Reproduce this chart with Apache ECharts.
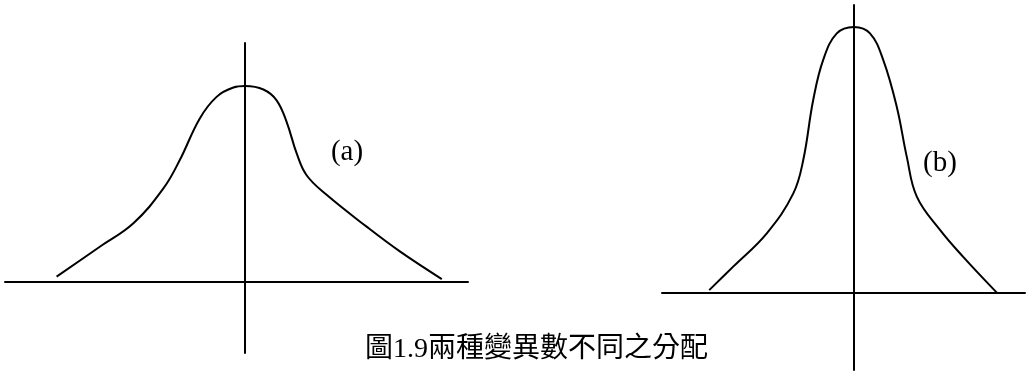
<!DOCTYPE html>
<html>
<head>
<meta charset="utf-8">
<script src="https://cdn.jsdelivr.net/npm/echarts@6/dist/echarts.min.js"></script>
<style>
  html, body { margin: 0; padding: 0; background: #fff; }
  #chart { width: 1026px; height: 374px; }
</style>
</head>
<body>
<div id="chart"></div>
<script>
// curve (a): wider spread
const xsA = [-4.71, -3.63, -2.79, -2.04, -1.63, -1.13, -0.71, -0.29, 0, 0.46, 0.79, 1.04, 1.29, 1.54, 2.04, 3.04, 3.88, 4.92];
const ysA = [0.011, 0.072, 0.120, 0.191, 0.249, 0.334, 0.378, 0.397, 0.400, 0.393, 0.371, 0.327, 0.263, 0.218, 0.178, 0.113, 0.062, 0.006];
// curve (b): narrower, taller
const xsB = [-3.62, -3.02, -2.18, -1.52, -1.27, -1.02, -0.77, -0.43, 0, 0.40, 0.73, 1.07, 1.32, 1.57, 2.15, 2.73, 3.57];
const ysB = [0.006, 0.054, 0.122, 0.203, 0.271, 0.394, 0.476, 0.530, 0.543, 0.530, 0.476, 0.380, 0.278, 0.197, 0.129, 0.074, 0.001];

const labelA = [2.55, 0.265];
const labelB = [2.15, 0.265];
const caption = '圖1.9兩種變異數不同之分配';

function pairs(xs, ys) {
    let list = [];
    for (let i = 0; i < xs.length; i++) {
        list.push([xs[i], ys[i]]);
    }
    return list;
}

const axisLine = {show: true, onZero: true, lineStyle: {color: '#000', width: 2}};
function axis(idx, min, max) {
    return {
        type: 'value', gridIndex: idx, min: min, max: max,
        axisLine: axisLine, axisTick: {show: false},
        axisLabel: {show: false}, splitLine: {show: false}
    };
}
const serif = '"Liberation Serif", "Times New Roman", serif';
const tag = function (text) {
    return {
        show: true, position: 'inside', formatter: text,
        fontFamily: serif, fontSize: 29, color: '#000',
        textBorderWidth: 0, opacity: 1
    };
};

let chart = echarts.init(document.getElementById('chart'));
chart.setOption({
    animation: false,
    title: {
        text: caption,
        left: 360,
        top: 331,
        textStyle: {
            fontFamily: '"Liberation Serif", "Noto Sans CJK TC", serif',
            fontSize: 28, fontWeight: 'normal', color: '#000'
        }
    },
    grid: [
        {left: 5, top: 43, width: 463, height: 310},
        {left: 662, top: 5, width: 363, height: 365}
    ],
    xAxis: [axis(0, -6, 5.575), axis(1, -4.8, 4.275)],
    yAxis: [axis(0, -0.145, 0.488), axis(1, -0.157, 0.588)],
    series: [
        {
            type: 'line', xAxisIndex: 0, yAxisIndex: 0,
            data: pairs(xsA, ysA), smooth: 0.4, showSymbol: false,
            lineStyle: {color: '#000', width: 2}
        },
        {
            type: 'line', xAxisIndex: 1, yAxisIndex: 1,
            data: pairs(xsB, ysB), smooth: 0.4, showSymbol: false,
            lineStyle: {color: '#000', width: 2}
        },
        {
            type: 'scatter', xAxisIndex: 0, yAxisIndex: 0,
            data: [labelA], symbolSize: 0, itemStyle: {color: '#000'},
            label: tag('(a)')
        },
        {
            type: 'scatter', xAxisIndex: 1, yAxisIndex: 1,
            data: [labelB], symbolSize: 0, itemStyle: {color: '#000'},
            label: tag('(b)')
        }
    ]
});
</script>
</body>
</html>
